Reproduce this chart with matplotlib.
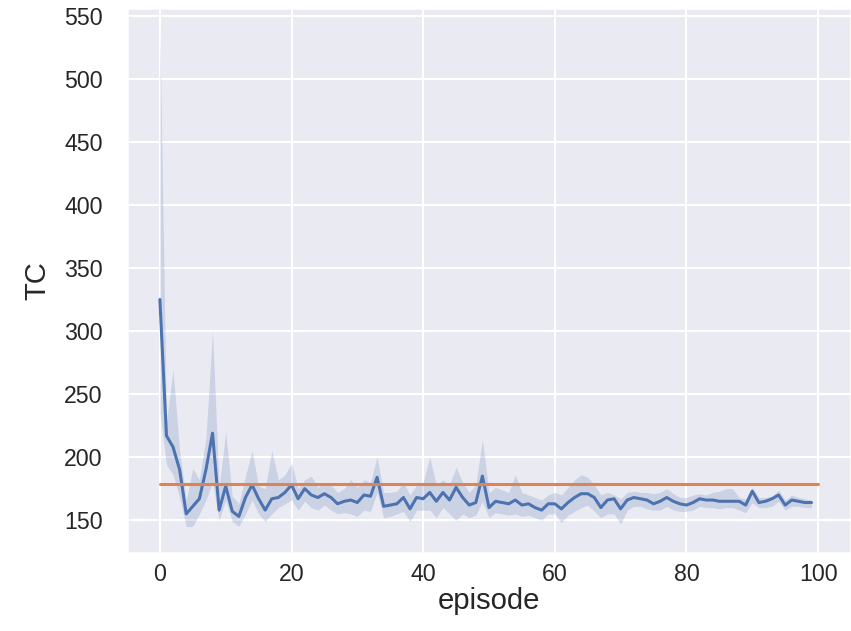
import numpy as np
import matplotlib
matplotlib.use('Agg')
import matplotlib.pyplot as plt
import seaborn as sns

# mean TC per episode
episodes = list(range(100))
tc_mean = [325, 217, 208, 190, 155, 161, 167, 190, 219, 158,
           177, 157, 153, 168, 178, 167, 158, 167, 168, 172,
           178, 167, 175, 170, 168, 171, 168, 163, 165, 166,
           164, 170, 169, 184, 161, 162, 163, 168, 159, 168,
           167, 172, 165, 172, 166, 176, 168, 162, 164, 185,
           160, 165, 164, 163, 166, 162, 163, 160, 158, 163,
           163, 159, 164, 168, 171, 171, 168, 160, 166, 167,
           159, 166, 168, 167, 166, 163, 165, 168, 165, 163,
           162, 164, 167, 166, 166, 165, 165, 165, 165, 162,
           173, 164, 165, 167, 170, 162, 166, 165, 164, 164]
# confidence band
tc_upper = [540, 228, 269, 205, 166, 191, 182, 215, 300, 176,
            220, 169, 163, 185, 205, 177, 175, 205, 182, 186,
            195, 175, 182, 185, 176, 180, 178, 172, 175, 182,
            176, 182, 180, 200, 172, 172, 173, 180, 170, 178,
            180, 200, 178, 182, 178, 192, 180, 172, 178, 214,
            172, 176, 174, 172, 186, 172, 170, 168, 166, 170,
            172, 170, 176, 182, 186, 184, 178, 170, 172, 170,
            167, 172, 173, 172, 172, 171, 172, 175, 171, 168,
            168, 170, 171, 170, 172, 173, 175, 175, 168, 167,
            176, 168, 168, 169, 174, 166, 170, 168, 167, 166]
tc_lower = [235, 194, 186, 168, 145, 145, 155, 166, 180, 150,
            166, 149, 145, 155, 166, 155, 149, 155, 160, 163,
            166, 158, 165, 160, 158, 162, 158, 155, 156, 155,
            153, 158, 157, 172, 152, 153, 155, 157, 149, 158,
            158, 158, 152, 160, 155, 150, 155, 152, 154, 165,
            152, 156, 155, 154, 155, 153, 154, 152, 150, 155,
            155, 148, 154, 157, 160, 162, 157, 152, 155, 155,
            147, 158, 161, 161, 159, 158, 158, 161, 158, 157,
            157, 158, 161, 160, 160, 159, 160, 160, 158, 156,
            164, 160, 160, 161, 165, 158, 161, 161, 160, 160]

# reference level
baseline_x = [0, 100]
baseline_tc = [179, 179]

sns.set_theme(style='darkgrid')
plt.rcParams['font.family'] = ['Liberation Sans', 'DejaVu Sans']
plt.rcParams['xtick.major.size'] = 0
plt.rcParams['ytick.major.size'] = 0

blue, orange = sns.color_palette('deep')[0], sns.color_palette('deep')[1]

fig = plt.figure(figsize=(851 / 145, 631 / 145), dpi=145)
ax = fig.add_axes([0.1492, 0.1236, 0.8508, 0.8637])

ax.fill_between(episodes, tc_lower, tc_upper, color=blue, alpha=0.2, linewidth=0)
ax.plot(episodes, tc_mean, color=blue)
ax.plot(baseline_x, baseline_tc, color=orange)

ax.set_xlim(-5, 105)
ax.set_ylim(124, 556)
ax.set_yticks(np.arange(150, 551, 50))
ax.tick_params(axis='x', labelsize=11.5, pad=5)
ax.tick_params(axis='y', labelsize=11.5, pad=12)
ax.set_xlabel('episode', fontsize=14.5)
ax.set_ylabel('TC', fontsize=14.5)
ax.xaxis.set_label_coords(0.5, -0.063)
ax.yaxis.set_label_coords(-0.105, 0.5)

fig.savefig('out.png', dpi=145)
